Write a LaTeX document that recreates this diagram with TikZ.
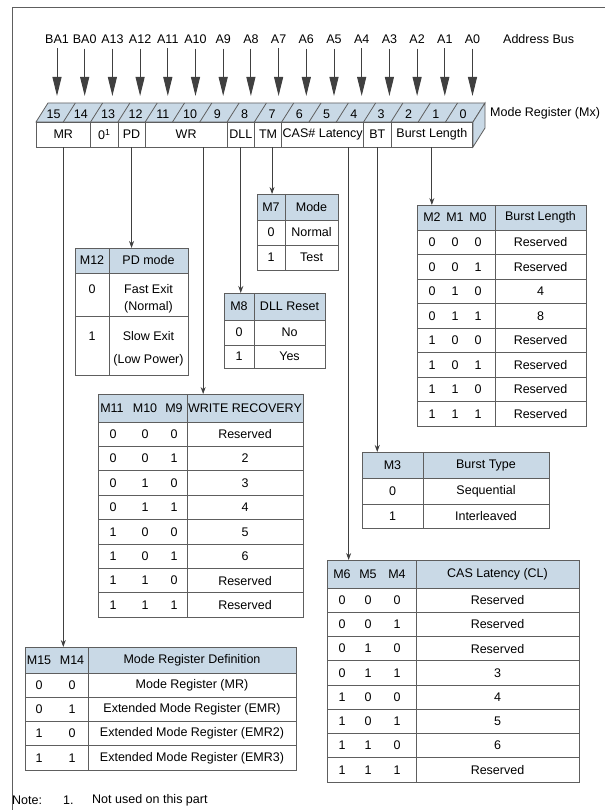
\documentclass[tikz,border=0pt]{standalone}
\usepackage{fontspec}
\setmainfont{Liberation Sans}
\usetikzlibrary{arrows.meta,positioning}

\definecolor{hdrblue}{HTML}{C9D9E6}
\definecolor{rulegray}{HTML}{5E5E5E}
\definecolor{inkgray}{HTML}{404040}

\begin{document}
\begin{tikzpicture}[
    x=1pt, y=-1pt,
    every node/.style={font=\fontsize{12.5}{14}\selectfont, text=black, inner sep=0pt},
    bus/.style={-{Triangle[length=19pt,width=9pt]}, draw=inkgray, line width=1pt, shorten <=5pt},
    face/.style={draw=rulegray, line width=0.8pt},
    field/.style={rectangle, draw=rulegray, fill=white, line width=0.8pt, minimum height=25pt},
    tabbox/.style={rectangle, anchor=north west},
    rule/.style={draw=rulegray, line width=0.9pt},
    head/.style={fill=hdrblue},
    link/.style={-{Stealth[length=7pt,width=5pt]}, draw=inkgray, line width=0.8pt},
]
\useasboundingbox (0,0) rectangle (605,810);
\draw[rule, line width=1pt] (12,810) -- (12,8) -- (605,8);

% address bus
\node[anchor=west] (busname) at (503,39) {Address Bus};
\foreach \lbl [count=\n from 0] in {BA1,BA0,A13,A12,A11,A10,A9,A8,A7,A6,A5,A4,A3,A2,A1,A0}{
  \pgfmathtruncatemacro\bit{15-\n}
  \node (addr\bit) at ({57+27.7*\n},39) {\lbl};
  \coordinate (tip\bit) at ({57+27.7*\n},96);
  \draw[bus] (addr\bit) -- (tip\bit);
}

% mode register
\filldraw[face, fill=hdrblue] (36,122) -- (48,103) -- (485,103) -- (473,122) -- cycle;
\filldraw[face, fill=hdrblue] (473,122) -- (485,103) -- (485,128) -- (473,147) -- cycle;
\foreach \k in {1,...,15}
  \draw[face] ({36+27.3*\k},122) -- ++(12,-19);
\foreach \k in {0,...,15}{
  \pgfmathtruncatemacro\bit{15-\k}
  \node (bitnum\bit) at ({36+27.3*\k+17.6},114) {\bit};
}
\node[anchor=west] (mxname) at (490,113) {Mode Register (Mx)};

\node[field, minimum width=54.6pt] (mr)  at (63.3,134.5)   {MR};
\node[field, minimum width=27.3pt] (rsv) at (104.25,134.5) {0\textsuperscript{1}};
\node[field, minimum width=27.3pt] (pd)  at (131.55,134.5) {PD};
\node[field, minimum width=81.9pt] (wr)  at (186.15,134.5) {WR};
\node[field, minimum width=27.3pt] (dll) at (240.75,134.5) {DLL};
\node[field, minimum width=27.3pt] (tm)  at (268.05,134.5) {TM};
\node[field, minimum width=81.9pt] (cas) at (322.65,134.5) {CAS\# Latency};
\node[field, minimum width=27.3pt] (bt)  at (377.25,134.5) {BT};
\node[field, minimum width=81.9pt] (bl)  at (431.85,134.5) {Burst Length};

% M7 table
\node[tabbox, minimum width=81pt, minimum height=76pt] (tm7) at (257,194) {};
\fill[head] (257,194) rectangle (338,220);
\draw[rule] (257,220) -- (338,220) (257,245) -- (338,245) (285,194) -- (285,270);
\draw[rule] (tm7.north west) rectangle (tm7.south east);
\node (tm7h1) at (271,207) {M7};
\node (tm7h2) at (311.5,207) {Mode};
\node (tm7a) at (271,232.5) {0};
\node (tm7b) at (311.5,232.5) {Normal};
\node (tm7c) at (271,257.5) {1};
\node (tm7d) at (311.5,257.5) {Test};

% burst length table
\node[tabbox, minimum width=169pt, minimum height=221pt] (tbl) at (417,205) {};
\fill[head] (417,205) rectangle (586,230);
\foreach \r in {0,...,7}
  \draw[rule] (417,{230+24.5*\r}) -- (586,{230+24.5*\r});
\draw[rule] (495,205) -- (495,426);
\draw[rule] (tbl.north west) rectangle (tbl.south east);
\node (tblh1) at (432,217.5) {M2};
\node (tblh2) at (455,217.5) {M1};
\node (tblh3) at (478,217.5) {M0};
\node (tblh4) at (540.5,217.5) {Burst Length};
\foreach \a/\b/\c/\v [count=\r] in {0/0/0/Reserved,0/0/1/Reserved,0/1/0/4,0/1/1/8,
    1/0/0/Reserved,1/0/1/Reserved,1/1/0/Reserved,1/1/1/Reserved}{
  \node (tbl-\r-a) at (432,{217.75+24.5*\r}) {\a};
  \node (tbl-\r-b) at (455,{217.75+24.5*\r}) {\b};
  \node (tbl-\r-c) at (478,{217.75+24.5*\r}) {\c};
  \node (tbl-\r-v) at (540.5,{217.75+24.5*\r}) {\v};
}

% PD table
\node[tabbox, minimum width=113pt, minimum height=127pt] (tpd) at (75,248) {};
\fill[head] (75,248) rectangle (188,273);
\draw[rule] (75,273) -- (188,273) (75,316) -- (188,316) (109,248) -- (109,375);
\draw[rule] (tpd.north west) rectangle (tpd.south east);
\node (tpdh1) at (92,260.5) {M12};
\node (tpdh2) at (148.5,260.5) {PD mode};
\node (tpda) at (92,289) {0};
\node (tpdb) at (148.5,289) {Fast Exit};
\node (tpdc) at (148.5,307) {(Normal)};
\node (tpdd) at (92,336) {1};
\node (tpde) at (148.5,336) {Slow Exit};
\node (tpdf) at (148.5,360) {(Low Power)};

% DLL table
\node[tabbox, minimum width=101pt, minimum height=75pt] (tdll) at (224,293) {};
\fill[head] (224,293) rectangle (325,320);
\draw[rule] (224,320) -- (325,320) (224,345) -- (325,345) (254,293) -- (254,368);
\draw[rule] (tdll.north west) rectangle (tdll.south east);
\node (tdllh1) at (239,306.5) {M8};
\node (tdllh2) at (289.5,306.5) {DLL Reset};
\node (tdlla) at (239,332.5) {0};
\node (tdllb) at (289.5,332.5) {No};
\node (tdllc) at (239,356.5) {1};
\node (tdlld) at (289.5,356.5) {Yes};

% write recovery table
\node[tabbox, minimum width=205pt, minimum height=223.2pt] (twr) at (98,394) {};
\fill[head] (98,394) rectangle (303,422);
\foreach \r in {0,...,7}
  \draw[rule] (98,{422+24.4*\r}) -- (303,{422+24.4*\r});
\draw[rule] (187,394) -- (187,617.2);
\draw[rule] (twr.north west) rectangle (twr.south east);
\node (twrh1) at (112,408) {M11};
\node (twrh2) at (145,408) {M10};
\node (twrh3) at (174,408) {M9};
\node (twrh4) at (245,408) {WRITE RECOVERY};
\foreach \a/\b/\c/\v [count=\r] in {0/0/0/Reserved,0/0/1/2,0/1/0/3,0/1/1/4,
    1/0/0/5,1/0/1/6,1/1/0/Reserved,1/1/1/Reserved}{
  \node (twr-\r-a) at (113,{409.8+24.4*\r}) {\a};
  \node (twr-\r-b) at (145,{409.8+24.4*\r}) {\b};
  \node (twr-\r-c) at (174,{409.8+24.4*\r}) {\c};
  \node (twr-\r-v) at (245,{409.8+24.4*\r}) {\v};
}

% burst type table
\node[tabbox, minimum width=187pt, minimum height=76pt] (tbt) at (362,452) {};
\fill[head] (362,452) rectangle (549,478);
\draw[rule] (362,478) -- (549,478) (362,504) -- (549,504) (423,452) -- (423,528);
\draw[rule] (tbt.north west) rectangle (tbt.south east);
\node (tbth1) at (392.5,465) {M3};
\node (tbth2) at (486,465) {Burst Type};
\node (tbta) at (392.5,491) {0};
\node (tbtb) at (486,491) {Sequential};
\node (tbtc) at (392.5,516) {1};
\node (tbtd) at (486,516) {Interleaved};

% CAS latency table
\node[tabbox, minimum width=252pt, minimum height=222pt] (tcas) at (327,560) {};
\fill[head] (327,560) rectangle (579,588);
\foreach \r in {0,...,7}
  \draw[rule] (327,{588+24.25*\r}) -- (579,{588+24.25*\r});
\draw[rule] (416,560) -- (416,782);
\draw[rule] (tcas.north west) rectangle (tcas.south east);
\node (tcash1) at (342,574) {M6};
\node (tcash2) at (368,574) {M5};
\node (tcash3) at (397,574) {M4};
\node (tcash4) at (497.5,574) {CAS Latency (CL)};
\foreach \a/\b/\c/\v [count=\r] in {0/0/0/Reserved,0/0/1/Reserved,0/1/0/Reserved,0/1/1/3,
    1/0/0/4,1/0/1/5,1/1/0/6,1/1/1/Reserved}{
  \node (tcas-\r-a) at (342,{575.875+24.25*\r}) {\a};
  \node (tcas-\r-b) at (368,{575.875+24.25*\r}) {\b};
  \node (tcas-\r-c) at (397,{575.875+24.25*\r}) {\c};
  \node (tcas-\r-v) at (497.5,{575.875+24.25*\r}) {\v};
}

% mode register definition table
\node[tabbox, minimum width=271pt, minimum height=123pt] (tmr) at (25,647) {};
\fill[head] (25,647) rectangle (296,673);
\foreach \r in {0,...,3}
  \draw[rule] (25,{673+24.25*\r}) -- (296,{673+24.25*\r});
\draw[rule] (88,647) -- (88,770);
\draw[rule] (tmr.north west) rectangle (tmr.south east);
\node (tmrh1) at (39,660) {M15};
\node (tmrh2) at (72,660) {M14};
\node (tmrh3) at (192,660) {Mode Register Definition};
\foreach \a/\b/\v [count=\r] in {0/0/Mode Register (MR),0/1/Extended Mode Register (EMR),
    1/0/Extended Mode Register (EMR2),1/1/Extended Mode Register (EMR3)}{
  \node (tmr-\r-a) at (39,{660.875+24.25*\r}) {\a};
  \node (tmr-\r-b) at (72,{660.875+24.25*\r}) {\b};
  \node (tmr-\r-v) at (192,{660.875+24.25*\r}) {\v};
}

% field links
\coordinate (wrtap) at ([xshift=17pt]wr.south);
\coordinate (tmtap) at ([xshift=4pt]tm.south);
\coordinate (castap) at ([xshift=26pt]cas.south);
\draw[link] (mr.south) -- (mr.south |- tmr.north);
\draw[link] (pd.south) -- (pd.south |- tpd.north);
\draw[link] (wrtap) -- (wrtap |- twr.north);
\draw[link] (dll.south) -- (dll.south |- tdll.north);
\draw[link] (tmtap) -- (tmtap |- tm7.north);
\draw[link] (castap) -- (castap |- tcas.north);
\draw[link] (bt.south) -- (bt.south |- tbt.north);
\draw[link] (bl.south) -- (bl.south |- tbl.north);

% footnote
\node[anchor=west] (note) at (12,800) {Note:};
\node[anchor=west] (noteno) at (63,800) {1.};
\node[anchor=west] (notetxt) at (92,800) {Not used on this part};
\end{tikzpicture}
\end{document}
